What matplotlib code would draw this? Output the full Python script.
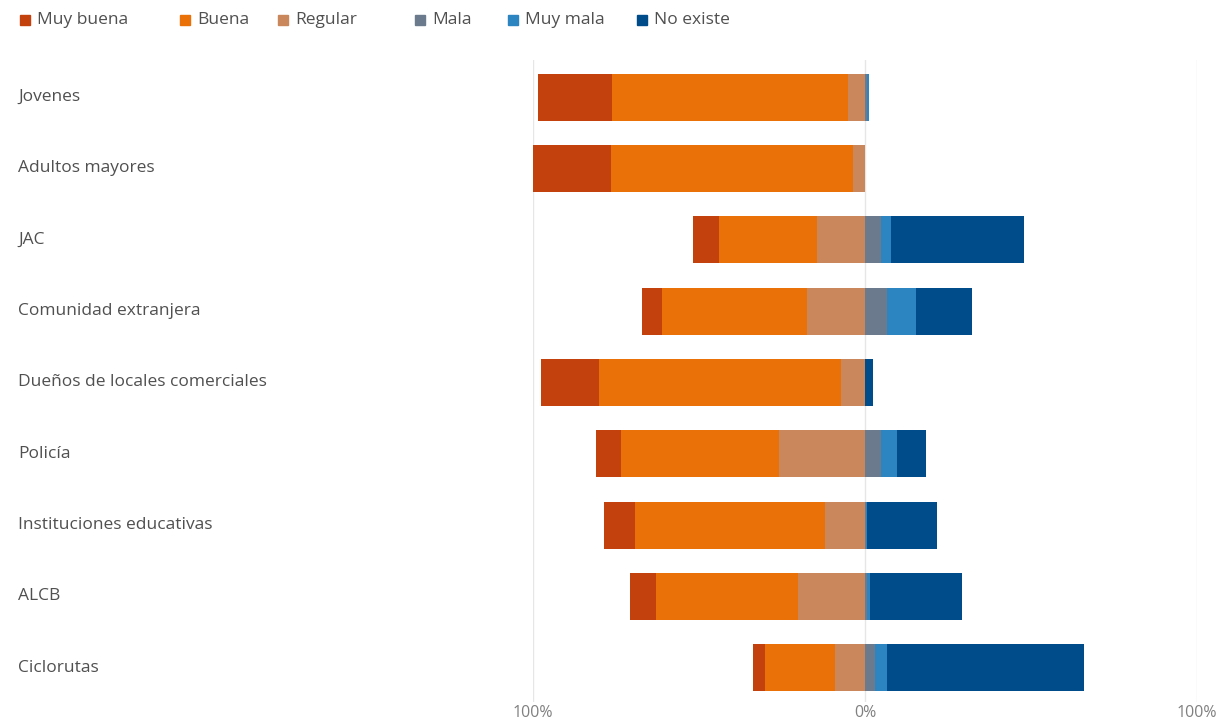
import matplotlib
matplotlib.use("Agg")
import matplotlib.pyplot as plt
from matplotlib.patches import Rectangle
import matplotlib.transforms as mtransforms
import numpy as np

categories = ["Jovenes", "Adultos mayores", "JAC", "Comunidad extranjera",
              "Dueños de locales comerciales", "Policía", "Instituciones educativas",
              "ALCB", "Ciclorutas"]
series_names = ["Muy buena", "Buena", "Regular", "Mala", "Muy mala", "No existe"]
muy_buena = [22.1, 23.3, 7.8, 6.0, 17.7, 7.4, 9.3, 7.8, 3.7]
buena     = [71.1, 73.1, 29.3, 43.7, 72.7, 47.8, 57.2, 42.9, 21.1]
regular   = [5.2, 3.5, 14.6, 17.5, 7.3, 25.8, 12.0, 20.1, 9.0]
mala      = [0.6, 0.1, 4.7, 6.5, 0.0, 4.7, 0.4, 0.5, 3.0]
muy_mala  = [0.6, 0.0, 3.0, 8.8, 0.0, 4.8, 0.2, 1.0, 3.5]
no_existe = [0.0, 0.0, 40.2, 16.8, 2.3, 9.0, 21.1, 27.7, 59.5]
tick_labels = ["100%", "0%", "100%"]

colors = ["#C2410C", "#EA7108", "#C9875B", "#6B7B8D", "#2C84C1", "#004B8A"]
text_color = "#505050"
font = ["Open Sans", "DejaVu Sans"]

fig = plt.figure(figsize=(12.25, 7.22), dpi=100)
W, H = 1225, 722
ax = fig.add_axes([533 / W, 1 - 702 / H, (1197 - 533) / W, (702 - 60) / H])

y = np.arange(len(categories))
bh = 0.66
left_series = [muy_buena, buena, regular]
right_series = [mala, muy_mala, no_existe]
mb = np.array(muy_buena); b = np.array(buena); r = np.array(regular)
cum = -(mb + b + r)
for vals, c in zip(left_series, colors[:3]):
    v = np.array(vals)
    ax.barh(y, v, left=cum, height=bh, color=c, linewidth=0)
    cum = cum + v
cum = np.zeros(len(categories))
for vals, c in zip(right_series, colors[3:]):
    v = np.array(vals)
    ax.barh(y, v, left=cum, height=bh, color=c, linewidth=0)
    cum = cum + v

ax.set_xlim(-100, 100)
ax.set_ylim(8.48, -0.52)
ax.set_xticks([-100, 0, 100])
ax.set_xticklabels(tick_labels, color="#808080", fontsize=11.5, family=font)
ax.tick_params(axis="x", length=0, pad=2)
ax.set_yticks([])
for s in ax.spines.values():
    s.set_visible(False)
ax.grid(axis="x", color="#e6e6e6", linewidth=1)
ax.set_axisbelow(True)

trans = mtransforms.blended_transform_factory(fig.transFigure, ax.transData)
for yi, cat in zip(y, categories):
    fig.text(18 / W, yi, cat, transform=trans,
             ha="left", va="center", fontsize=12.5, color=text_color, family=font)

# legend
leg_x = [20, 180, 278, 415, 508, 637]
for lx, name, c in zip(leg_x, series_names, colors):
    fig.patches.append(Rectangle((lx / W, 1 - 25 / H), 10 / W, 10 / H, transform=fig.transFigure,
                                 color=c, figure=fig))
    fig.text((lx + 17) / W, 1 - 20 / H, name, ha="left", va="center", fontsize=12.5,
             color=text_color, family=font)

fig.savefig("out.png", dpi=100)
